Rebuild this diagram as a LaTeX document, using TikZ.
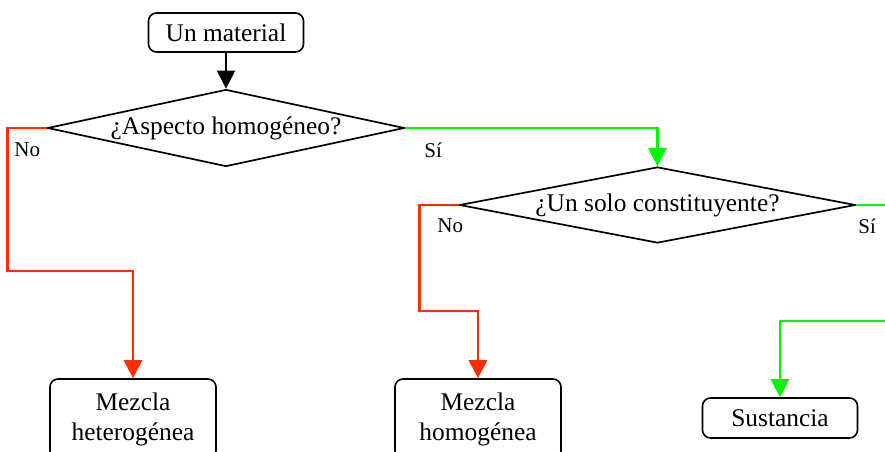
\documentclass[tikz,border=0pt]{standalone}
\usepackage{fontspec}
\setmainfont{Liberation Serif}
\usetikzlibrary{shapes.geometric,arrows.meta}
\definecolor{rojo}{RGB}{255,45,0}
\definecolor{verde}{RGB}{0,245,0}
\begin{document}
\begin{tikzpicture}[x=0.5pt,y=-0.5pt,>={Triangle[width=9pt,length=9pt]},
    caja/.style={draw,rounded corners=4pt,line width=0.8pt,align=center,inner sep=0pt,
        minimum width=77.5pt,minimum height=19.5pt,font=\fontsize{12.7}{15}\selectfont},
    pregunta/.style={draw,diamond,line width=0.85pt,inner sep=0pt,font=\fontsize{12.7}{15}\selectfont},
    etiq/.style={anchor=west,inner sep=0pt,font=\fontsize{10.5}{12}\selectfont},
    si/.style={draw=verde,line width=1.45pt,->},
    no/.style={draw=rojo,line width=1.45pt,->}]
\useasboundingbox (0,0) rectangle (885,451);
\clip (0,0) rectangle (885,451);

\node[caja] (mat) at (226,32.5) {Un material};
\node[pregunta,shape aspect=4.6,minimum width=178.5pt,minimum height=38.5pt] (q1) at (226,128) {¿Aspecto homogéneo?};
\node[pregunta,shape aspect=5.2,minimum width=198pt,minimum height=38pt] (q2) at (657.5,205) {¿Un solo constituyente?};
\node[caja,minimum width=83pt,minimum height=40pt] (het) at (133,419) {Mezcla\\heterogénea};
\node[caja,minimum width=83pt,minimum height=40pt] (hom) at (478,419) {Mezcla\\homogénea};
\node[caja,minimum height=20pt] (sus) at (780,418) {Sustancia};
\coordinate (fuera1) at (900,205);
\coordinate (fuera2) at (900,321);

\node[etiq] (no1) at (14,150) {No};
\node[etiq] (si1) at (424,150) {Sí};
\node[etiq] (no2) at (437,226) {No};
\node[etiq] (si2) at (858,226) {Sí};

\draw[->,line width=1.15pt] (mat) -- (q1.north);
\draw[no] (q1.west) -- ++(-39,0) -- ++(0,143) -| (het.north);
\draw[si] (q1.east) -| (q2.north);
\draw[no] (q2.west) -- ++(-39,0) -- ++(0,106) -| (hom.north);
\draw[si,-] (q2.east) -- (fuera1);
\draw[si] (fuera2) -| (sus.north);

\end{tikzpicture}
\end{document}
